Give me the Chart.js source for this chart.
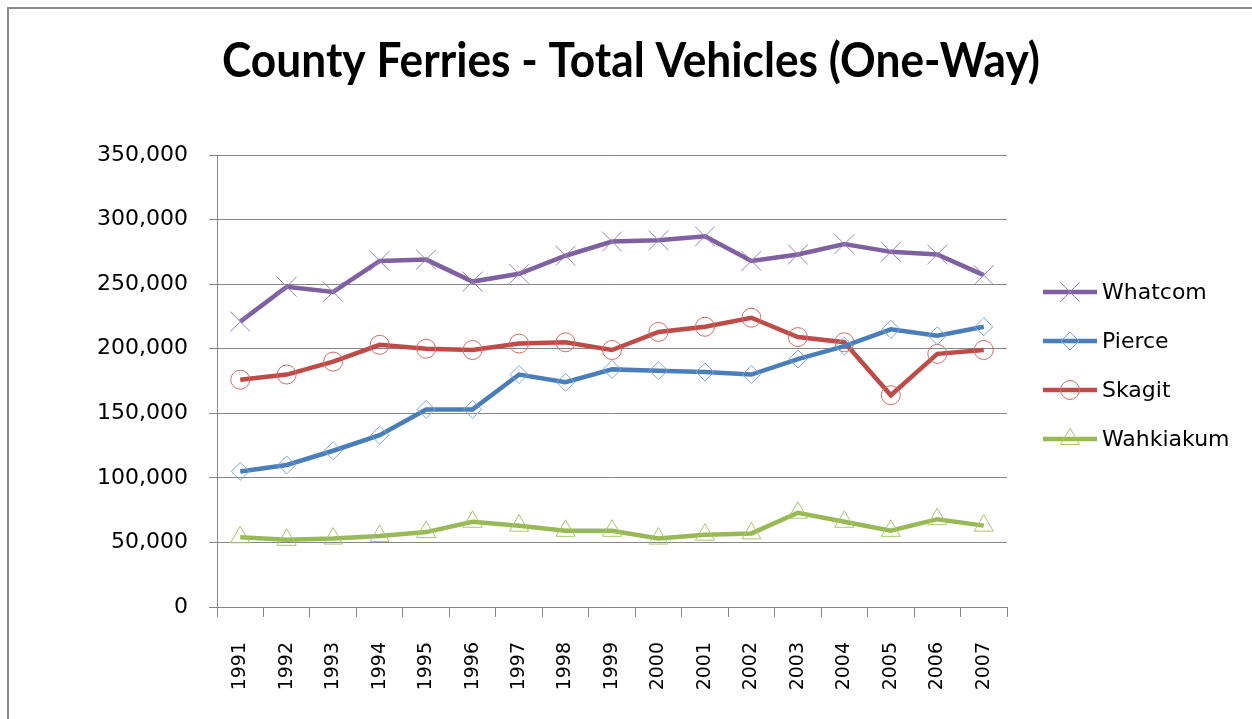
<!DOCTYPE html>
<html>
<head>
<meta charset="utf-8">
<script src="https://cdn.jsdelivr.net/npm/chart.js@4"></script>
<style>
  html, body { margin: 0; padding: 0; background: #fff; overflow: hidden; }
  canvas { display: block; }
</style>
</head>
<body>
<canvas id="ferryChart" width="1252" height="719"></canvas>
<script>
// years along the x axis
const years = ['1991', '1992', '1993', '1994', '1995', '1996', '1997', '1998', '1999',
               '2000', '2001', '2002', '2003', '2004', '2005', '2006', '2007'];

// vehicles per county
const whatcom   = [221000, 248000, 244000, 268000, 269000, 252000, 258000, 272000, 283000,
                   284000, 287000, 268000, 273000, 281000, 275000, 273000, 257000];
const pierce    = [105000, 110000, 121000, 133000, 153000, 153000, 180000, 174000, 184000,
                   183000, 182000, 180000, 192000, 202000, 215000, 210000, 217000];
const skagit    = [176000, 180000, 190000, 203000, 200000, 199000, 204000, 205000, 199000,
                   213000, 217000, 224000, 209000, 205000, 164000, 196000, 199000];
const wahkiakum = [54000, 52000, 53000, 55000, 58000, 66000, 63000, 59000, 59000,
                   53000, 56000, 57000, 73000, 66000, 59000, 68000, 63000];

const yTicks = [0, 50000, 100000, 150000, 200000, 250000, 300000, 350000];

const titleText = 'County Ferries - Total Vehicles (One-Way)';
const axisGrey = '#868686';

// grey frame round the chart (only top and left show in the picture)
const framePlugin = {
    id: 'frame',
    beforeDraw(chart) {
        const ctx = chart.ctx;
        ctx.save();
        ctx.strokeStyle = '#8a8a8a';
        ctx.lineWidth = 2;
        ctx.beginPath();
        ctx.moveTo(8, chart.height);
        ctx.lineTo(8, 8);
        ctx.lineTo(chart.width, 8);
        ctx.stroke();
        ctx.restore();
    }
};

// title is centred on the whole canvas, squeezed a bit like the narrow original font
const titlePlugin = {
    id: 'bigTitle',
    afterDraw(chart) {
        const ctx = chart.ctx;
        ctx.save();
        ctx.font = 'bold 48px Lato, sans-serif';
        ctx.fillStyle = '#000';
        ctx.textAlign = 'center';
        ctx.textBaseline = 'alphabetic';
        const w = ctx.measureText(titleText).width;
        const sx = Math.min(1, 818 / w);
        ctx.translate(631, 77);
        ctx.scale(sx, 1);
        ctx.fillText(titleText, 0, 0);
        ctx.restore();
    }
};

// legend on the right: line sample with its marker, then the name
const sideLegend = {
    id: 'sideLegend',
    afterDraw(chart) {
        const ctx = chart.ctx;
        const area = chart.chartArea;
        const x0 = area.right + 36;
        const lineLen = 54;
        ctx.save();
        chart.data.datasets.forEach((ds, i) => {
            const y = area.top + 137 + i * 49;
            ctx.strokeStyle = ds.borderColor;
            ctx.lineWidth = ds.borderWidth;
            ctx.beginPath();
            ctx.moveTo(x0, y);
            ctx.lineTo(x0 + lineLen, y);
            ctx.stroke();
            ctx.strokeStyle = ds.pointBorderColor;
            ctx.fillStyle = 'rgba(0,0,0,0)';
            ctx.lineWidth = 1;
            Chart.helpers.drawPoint(ctx, {
                pointStyle: ds.pointStyle,
                radius: ds.pointRadius,
                borderWidth: 1,
                rotation: 0
            }, x0 + lineLen / 2, y);
            ctx.fillStyle = '#000';
            ctx.font = '22px "DejaVu Sans"';
            ctx.textAlign = 'left';
            ctx.textBaseline = 'middle';
            ctx.fillText(ds.label, x0 + lineLen + 5, y + 1);
        });
        ctx.restore();
    }
};

function series(label, data, line, marker, style, radius) {
    return {
        label: label,
        data: data,
        borderColor: line,
        borderWidth: 4.5,
        pointStyle: style,
        pointRadius: radius,
        pointHoverRadius: radius,
        pointBorderColor: marker,
        pointBackgroundColor: 'rgba(0,0,0,0)',
        pointBorderWidth: 1,
        tension: 0,
        fill: false
    };
}

const ctx = document.getElementById('ferryChart').getContext('2d');
const chart = new Chart(ctx, {
    type: 'line',
    data: {
        labels: years,
        datasets: [
            series('Whatcom', whatcom, '#7f60a0', '#9880ba', 'crossRot', 14),
            series('Pierce', pierce, '#4a7ebb', '#7ea6da', 'rectRot', 9),
            series('Skagit', skagit, '#be4b48', '#d46b67', 'circle', 9.5),
            series('Wahkiakum', wahkiakum, '#98b954', '#a9c66b', 'triangle', 11)
        ]
    },
    options: {
        responsive: false,
        animation: false,
        devicePixelRatio: 1,
        layout: { padding: { left: 0, right: 245, top: 155, bottom: 0 } },
        plugins: {
            legend: { display: false },
            tooltip: { enabled: false },
            title: { display: false }
        },
        scales: {
            x: {
                offset: true,
                grid: {
                    offset: true,
                    drawOnChartArea: false,
                    drawTicks: true,
                    tickLength: 10,
                    color: axisGrey
                },
                border: { color: axisGrey, width: 1 },
                ticks: {
                    minRotation: 90,
                    maxRotation: 90,
                    autoSkip: false,
                    padding: 25,
                    color: '#000',
                    font: { family: '"DejaVu Sans"', size: 19 }
                },
                afterFit(scale) { scale.height = 112; }
            },
            y: {
                min: 0,
                max: 350000,
                afterBuildTicks(scale) { scale.ticks = yTicks.map(v => ({ value: v })); },
                grid: { color: axisGrey, lineWidth: 1, tickLength: 8 },
                border: { color: axisGrey, width: 1 },
                ticks: {
                    padding: 21,
                    color: '#000',
                    font: { family: '"DejaVu Sans"', size: 22 },
                    callback: v => v.toLocaleString('en-US')
                },
                afterFit(scale) { scale.width = 217; }
            }
        }
    },
    plugins: [framePlugin, titlePlugin, sideLegend]
});
</script>
</body>
</html>
